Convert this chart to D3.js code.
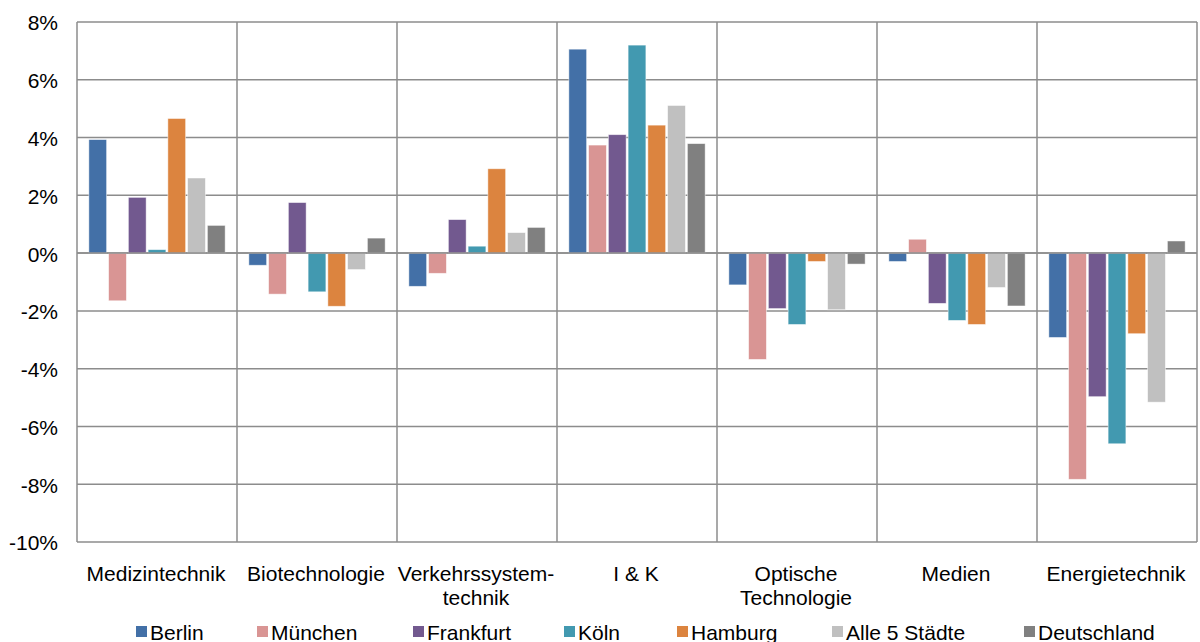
<!DOCTYPE html>
<html>
<head>
<meta charset="utf-8">
<title>Wachstum nach Branchen</title>
<script src="https://cdnjs.cloudflare.com/ajax/libs/d3/7.8.5/d3.min.js"></script>
<style>
body { margin: 0; background: #fff; }
text { font-family: "Liberation Sans", Arial, sans-serif; fill: #000; }
</style>
</head>
<body>
<script>
var categories = ["Medizintechnik", "Biotechnologie", "Verkehrssystem-\ntechnik", "I & K",
                  "Optische\nTechnologie", "Medien", "Energietechnik"];
var series = ["Berlin", "München", "Frankfurt", "Köln", "Hamburg", "Alle 5 Städte", "Deutschland"];
var colors = ["#4370a7", "#d99594", "#72598f", "#4299b0", "#dc843f", "#c0c0c0", "#808080"];

// values in %, one array per city, in category order
var berlin      = [3.93, -0.42, -1.15, 7.06, -1.10, -0.29, -2.92];
var muenchen    = [-1.65, -1.42, -0.70, 3.74, -3.68, 0.48, -7.83];
var frankfurt   = [1.93, 1.75, 1.16, 4.10, -1.92, -1.74, -4.97];
var koeln       = [0.12, -1.34, 0.24, 7.20, -2.47, -2.33, -6.60];
var hamburg     = [4.66, -1.84, 2.92, 4.43, -0.29, -2.47, -2.79];
var alle5       = [2.60, -0.57, 0.71, 5.11, -1.96, -1.19, -5.16];
var deutschland = [0.96, 0.52, 0.89, 3.79, -0.38, -1.83, 0.42];

var yTicks = [8, 6, 4, 2, 0, -2, -4, -6, -8, -10];

var values = [berlin, muenchen, frankfurt, koeln, hamburg, alle5, deutschland];

var width = 1200, height = 642;
var plotLeft = 77, plotRight = 1197, plotTop = 22, plotBottom = 542;
var fontSize = "21px";

var svg = d3.select("body").append("svg")
  .attr("width", width)
  .attr("height", height);

var x0 = d3.scaleBand().domain(categories).range([plotLeft, plotRight]);
var x1 = d3.scaleBand().domain(series).range([0, x0.bandwidth()])
  .paddingInner(0.1).paddingOuter(0.6);
var y = d3.scaleLinear().domain([-10, 8]).range([plotBottom, plotTop]);

// horizontal gridlines
svg.append("g").selectAll("line")
  .data(yTicks)
  .enter().append("line")
  .attr("x1", plotLeft).attr("x2", plotRight)
  .attr("y1", function(d) { return y(d); })
  .attr("y2", function(d) { return y(d); })
  .attr("stroke", "#8c8c8c")
  .attr("stroke-width", 1.5);

// vertical separators
var bounds = [plotLeft].concat(categories.map(function(c) { return x0(c) + x0.bandwidth(); }));
svg.append("g").selectAll("line")
  .data(bounds)
  .enter().append("line")
  .attr("x1", function(d) { return d; })
  .attr("x2", function(d) { return d; })
  .attr("y1", plotTop).attr("y2", plotBottom)
  .attr("stroke", "#8c8c8c")
  .attr("stroke-width", 1.5);

// bars
var groups = svg.append("g").selectAll("g")
  .data(categories)
  .enter().append("g")
  .attr("transform", function(c) { return "translate(" + x0(c) + ",0)"; });

groups.selectAll("rect")
  .data(function(c, i) {
    return series.map(function(s, j) { return {s: s, v: values[j][i], color: colors[j]}; });
  })
  .enter().append("rect")
  .attr("x", function(d) { return x1(d.s); })
  .attr("width", x1.bandwidth())
  .attr("y", function(d) { return y(Math.max(0, d.v)); })
  .attr("height", function(d) { return Math.abs(y(d.v) - y(0)); })
  .attr("fill", function(d) { return d.color; })
  .attr("stroke", "#ffffff")
  .attr("stroke-opacity", 0.6)
  .attr("stroke-width", 0.8);

// redraw zero line on top of bars
svg.append("line")
  .attr("x1", plotLeft).attr("x2", plotRight)
  .attr("y1", y(0)).attr("y2", y(0))
  .attr("stroke", "#8c8c8c")
  .attr("stroke-width", 1.5);

// y axis labels
svg.append("g").selectAll("text")
  .data(yTicks)
  .enter().append("text")
  .attr("x", 58)
  .attr("y", function(d) { return y(d); })
  .attr("dy", "0.4em")
  .attr("text-anchor", "end")
  .style("font-size", fontSize)
  .text(function(d) { return d + "%"; });

// category labels
var cl = svg.append("g").selectAll("text")
  .data(categories)
  .enter().append("text")
  .attr("x", function(c) { return x0(c) + x0.bandwidth() / 2 - 1; })
  .attr("y", 581)
  .attr("text-anchor", "middle")
  .style("font-size", fontSize);

cl.selectAll("tspan")
  .data(function(c) { return c.split("\n"); })
  .enter().append("tspan")
  .attr("x", function() { return d3.select(this.parentNode).attr("x"); })
  .attr("dy", function(d, i) { return i === 0 ? 0 : 23.5; })
  .text(function(d) { return d; });

// legend
var legendX = [136, 257, 413, 564, 677, 832, 1024];
var lg = svg.append("g").selectAll("g")
  .data(series)
  .enter().append("g")
  .attr("transform", function(s, i) { return "translate(" + legendX[i] + ",626)"; });

lg.append("rect")
  .attr("width", 11).attr("height", 11)
  .attr("fill", function(s, i) { return colors[i]; });

lg.append("text")
  .attr("x", 14)
  .attr("y", 14)
  .style("font-size", fontSize)
  .text(function(s) { return s; });
</script>
</body>
</html>
